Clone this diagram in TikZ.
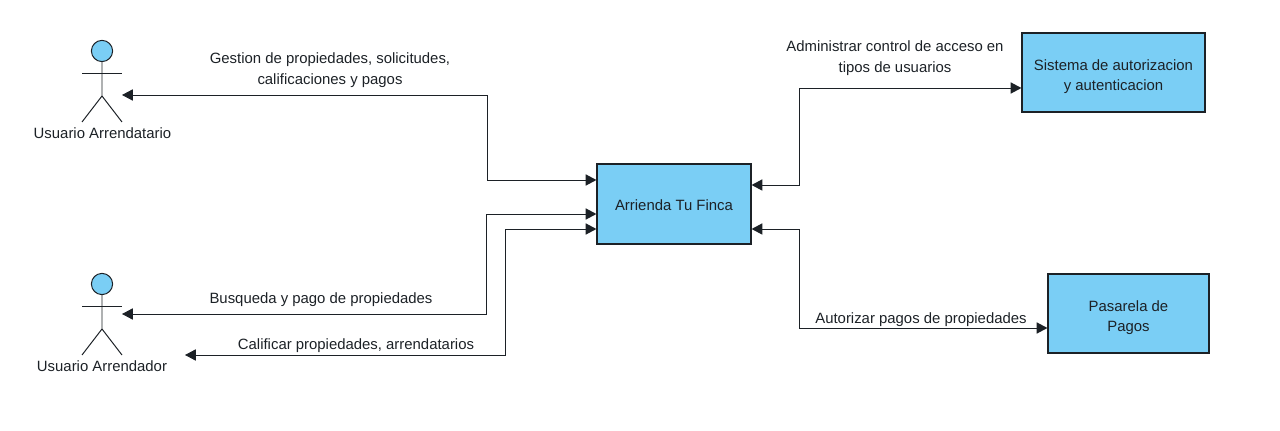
\documentclass[tikz,border=0pt]{standalone}
\usepackage{fontspec}
\setmainfont{Liberation Sans}
\usetikzlibrary{arrows.meta}
\definecolor{boxblue}{HTML}{7ACEF5}
\definecolor{inkdark}{HTML}{1C2126}
\tikzset{
  sysbox/.style={draw=inkdark,fill=boxblue,text=inkdark,line width=0.8pt,align=center,inner sep=0pt},
  actorhead/.style={draw=inkdark,fill=boxblue,circle,line width=0.7pt,minimum size=0.53cm,inner sep=0pt},
  actorline/.style={draw=inkdark,line width=0.7pt},
  flow/.style={draw=inkdark,line width=0.7pt,{Triangle[length=0.27cm,width=0.28cm]}-{Triangle[length=0.27cm,width=0.28cm]}},
  lbl/.style={align=center,text=inkdark,inner sep=0pt}
}
\begin{document}
\begin{tikzpicture}[x=0.025cm,y=-0.025cm,font=\fontsize{10.6pt}{14.5pt}\selectfont]
\useasboundingbox (0,0) rectangle (1280,431);
\node[sysbox,minimum width=3.85cm,minimum height=2cm] (main) at (674,204) {\rule{0pt}{10pt}Arrienda Tu Finca};
\node[sysbox,minimum width=4.575cm,minimum height=1.975cm] (auth) at (1113.5,72.5) {\rule{0pt}{14pt}Sistema de autorizacion\\y autenticacion};
\node[sysbox,minimum width=4.025cm,minimum height=1.975cm] (pay) at (1128.5,313.5) {\rule{0pt}{14pt}Pasarela de\\Pagos};
\node[actorhead] (headA) at (102,51) {};
\draw[actorline] (headA.south) -- (102,96) -- (82,122);
\draw[actorline] (102,96) -- (122,122);
\draw[actorline] (82,73) -- (122,73);
\node[lbl] (nameA) at (102.5,133.5) {Usuario Arrendatario};
\node[actorhead] (headB) at (102,284) {};
\draw[actorline] (headB.south) -- (102,329) -- (82,355);
\draw[actorline] (102,329) -- (122,355);
\draw[actorline] (82,306) -- (122,306);
\node[lbl] (nameB) at (102,366) {Usuario Arrendador};
\coordinate (endA) at (122,95);
\coordinate (endB) at (122,314);
\coordinate (endC) at (185,355);
\draw[flow] (endA) -- (487,95) -- (487,180) -- (main.west |- 0,180);
\draw[flow] (endB) -- (486,314) -- (486,214) -- (main.west |- 0,214);
\draw[flow] (endC) -- (505,355) -- (505,229) -- (main.west |- 0,229);
\draw[flow] (main.east |- 0,185) -- (799,185) -- (799,88) -- (auth.west |- 0,88);
\draw[flow] (main.east |- 0,229) -- (799,229) -- (799,328) -- (pay.west |- 0,328);
\node[lbl] (textA) at (330,70) {Gestion de propiedades, solicitudes,\\calificaciones y pagos};
\node[lbl] (textB) at (321,300) {Busqueda y pago de propiedades};
\node[lbl] (textC) at (356,346) {Calificar propiedades, arrendatarios};
\node[lbl] (textD) at (895,58) {Administrar control de acceso en\\tipos de usuarios};
\node[lbl] (textE) at (921,320) {Autorizar pagos de propiedades};
\end{tikzpicture}
\end{document}
